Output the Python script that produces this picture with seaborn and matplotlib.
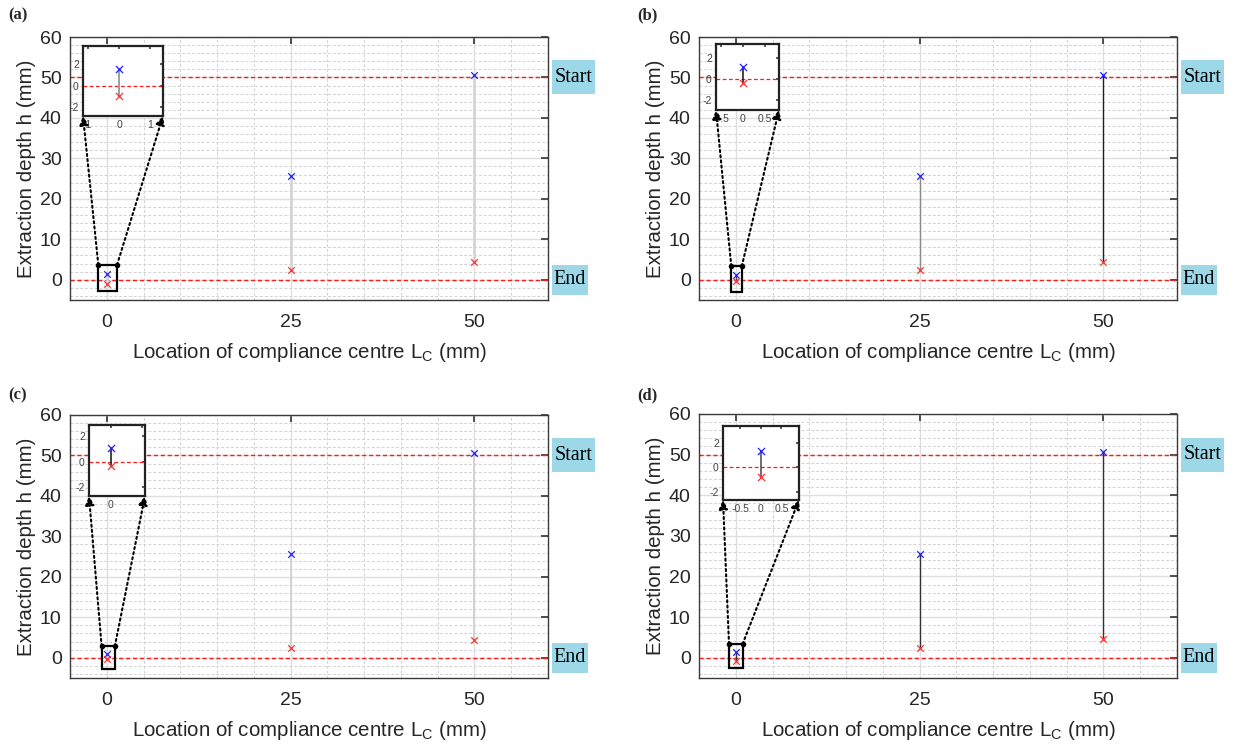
import matplotlib
matplotlib.use("Agg")
import matplotlib.pyplot as plt
import matplotlib.transforms as mtransforms
import seaborn as sns
import pandas as pd
from matplotlib.ticker import MultipleLocator, FixedLocator
from matplotlib.patches import Rectangle, ConnectionPatch

# ---- data -------------------------------------------------------------
lc = [0, 25, 50]                       # location of compliance centre (mm)

h_start_a = [1.52, 25.7, 50.6]
h_end_a = [-0.93, 2.4, 4.5]
h_start_b = [1.13, 25.6, 50.6]
h_end_b = [-0.41, 2.3, 4.5]
h_start_c = [1.05, 25.6, 50.6]
h_end_c = [-0.34, 2.3, 4.5]
h_start_d = [1.35, 25.6, 50.6]
h_end_d = [-0.76, 2.3, 4.5]

panel_tags = ["(a)", "(b)", "(c)", "(d)"]
marker_labels = ["Start", "End"]
marker_levels = [50, 0]

# zoom windows around L_C = 0
inset_xlim_a = [-1.15, 1.4]
inset_ylim_a = [-2.8, 3.7]
inset_xlim_b = [-0.61, 0.82]
inset_ylim_b = [-3.0, 3.37]
inset_xlim_c = [-0.7, 1.1]
inset_ylim_c = [-2.67, 2.88]
inset_xlim_d = [-0.92, 0.93]
inset_ylim_d = [-2.66, 3.38]

inset_xticks_a = [-1, 0, 1]
inset_xticks_b = [-0.5, 0, 0.5]
inset_xticks_c = [0, 1]
inset_xticks_d = [-0.5, 0, 0.5]
inset_yticks = [-2, 0, 2]

# ---- style ------------------------------------------------------------
sns.set_theme(style="white")
plt.rcParams["font.family"] = ["Liberation Sans", "DejaVu Sans"]
plt.rcParams["axes.unicode_minus"] = False

W, H = 1236, 753
fig = plt.figure(figsize=(W / 100, H / 100), dpi=100)


def fbox(l, t, r, b):
    return [l / W, 1 - b / H, (r - l) / W, (b - t) / H]


panels = [
    dict(start=h_start_a, end=h_end_a, xl=inset_xlim_a, yl=inset_ylim_a, xt=inset_xticks_a,
         main=fbox(70, 37, 548, 300), ins=fbox(83, 46, 163, 116),
         link_c="#d4d4d4", link_w=2.0, ins_c="#8c8c8c", tag=(8, 15)),
    dict(start=h_start_b, end=h_end_b, xl=inset_xlim_b, yl=inset_ylim_b, xt=inset_xticks_b,
         main=fbox(699, 37, 1177, 300), ins=fbox(716, 44, 779, 110),
         link_c=["#444444", "#8a8a8a", "#222222"], link_w=1.0, ins_c="#222222", tag=(637, 15)),
    dict(start=h_start_c, end=h_end_c, xl=inset_xlim_c, yl=inset_ylim_c, xt=inset_xticks_c,
         main=fbox(70, 415, 548, 678), ins=fbox(89, 425, 145, 496),
         link_c="#d0d0d0", link_w=1.3, ins_c="#222222", tag=(8, 395)),
    dict(start=h_start_d, end=h_end_d, xl=inset_xlim_d, yl=inset_ylim_d, xt=inset_xticks_d,
         main=fbox(699, 414, 1177, 678), ins=fbox(723, 426, 799, 500),
         link_c="#333333", link_w=1.0, ins_c="#555555", tag=(637, 395)),
]

# tag boxes: (width px, height px)
tag_box = {"Start": (43, 34), "End": (36, 30)}

dash = (0, (3, 2))
spine_c = "#3a3a3a"
YMIN, YMAX = -5, 60

for tag, p in zip(panel_tags, panels):
    ax = fig.add_axes(p["main"])
    df = pd.DataFrame({"lc": lc, "start": p["start"], "end": p["end"]})

    # grid
    ax.set_xlim(-5, 60)
    ax.set_ylim(YMIN, YMAX)
    ax.xaxis.set_major_locator(FixedLocator([0, 25, 50]))
    ax.yaxis.set_major_locator(MultipleLocator(10))
    ax.xaxis.set_minor_locator(MultipleLocator(5))
    ax.yaxis.set_minor_locator(MultipleLocator(2))
    ax.grid(which="major", color="#dedede", lw=1.0, ls="-")
    ax.grid(which="minor", color="#d2d2d2", lw=0.7, ls=dash)
    ax.set_axisbelow(True)

    # start / end reference levels
    for lvl in marker_levels:
        ax.axhline(lvl, color="#ff1a1a", lw=1.0, ls=dash, zorder=2)

    # vertical links between start and end depth
    cols = p["link_c"] if isinstance(p["link_c"], list) else [p["link_c"]] * len(lc)
    for x, y0, y1, c in zip(df["lc"], df["end"], df["start"], cols):
        ax.plot([x, x], [y0, y1], color=c, lw=p["link_w"], zorder=3)

    sns.scatterplot(data=df, x="lc", y="start", marker="x", color="#2020ff",
                    s=22, linewidth=0.9, ax=ax, zorder=4)
    sns.scatterplot(data=df, x="lc", y="end", marker="x", color="#ff3030",
                    s=22, linewidth=0.9, ax=ax, zorder=4)

    ax.tick_params(which="major", direction="in", length=5, top=True, right=True,
                   color=spine_c, labelsize=14, labelcolor="#262626")
    ax.tick_params(axis="x", which="major", pad=10)
    ax.tick_params(axis="y", which="major", pad=6)
    ax.tick_params(which="minor", length=0)
    for s in ax.spines.values():
        s.set_color(spine_c)
        s.set_linewidth(1.0)
    ax.set_xlabel("Location of compliance centre L$_\\mathregular{C}$ (mm)",
                  fontsize=14.8, color="#262626", labelpad=7)
    ax.set_ylabel("Extraction depth h (mm)", fontsize=14.8, color="#262626", labelpad=3)

    # Start / End tags: shaded boxes just outside the right spine
    axw = p["main"][2] * W
    axh = p["main"][3] * H
    units_per_px = (YMAX - YMIN) / axh
    trans = mtransforms.blended_transform_factory(ax.transAxes, ax.transData)
    for txt, lvl in zip(marker_labels, marker_levels):
        bw, bh = tag_box[txt]
        ax.add_patch(Rectangle((1 + 4 / axw, lvl - bh / 2 * units_per_px),
                               bw / axw, bh * units_per_px, transform=trans,
                               fc="#9dd8e8", ec="none", clip_on=False, zorder=6))
        ax.text(1 + (4 + bw / 2) / axw, lvl, txt, transform=trans, ha="center",
                va="center", fontsize=14.5, family="Liberation Serif", color="black",
                clip_on=False, zorder=7)

    # zoom window outline
    x0, x1 = p["xl"]
    y0, y1 = p["yl"]
    ax.add_patch(Rectangle((x0, y0), x1 - x0, y1 - y0, fill=False, ec="black",
                           lw=1.6, zorder=5))
    ax.plot([x0, x1], [y1, y1], ls="none", marker="o", ms=3, color="black", zorder=6)

    # inset
    ins = fig.add_axes(p["ins"])
    ins.set_xlim(x0, x1)
    ins.set_ylim(y0, y1)
    ins.axhline(0, color="#ff1a1a", lw=0.9, ls=dash, zorder=2)
    ins.plot([0, 0], [p["end"][0], p["start"][0]], color=p["ins_c"], lw=1.2, zorder=3)
    sns.scatterplot(x=[0], y=[p["start"][0]], marker="x", color="#2020ff", s=26,
                    linewidth=0.9, ax=ins, zorder=4)
    sns.scatterplot(x=[0], y=[p["end"][0]], marker="x", color="#ff3030", s=26,
                    linewidth=0.9, ax=ins, zorder=4)
    ins.set_xticks(p["xt"])
    ins.set_xticklabels([f"{v:g}" for v in p["xt"]])
    ins.set_yticks(inset_yticks)
    ins.set_yticklabels([f"{v:g}" for v in inset_yticks])
    ins.tick_params(direction="in", length=2.5, labelsize=7.5, labelcolor="#444444",
                    color="#444444", pad=3, top=True, right=True)
    for s in ins.spines.values():
        s.set_color("#222222")
        s.set_linewidth(1.6)
    ins.set_xlabel("")
    ins.set_ylabel("")

    # dotted leaders from the zoom window to the inset
    for xa, xb in [(x0, 0), (x1, 1)]:
        con = ConnectionPatch(xyA=(xa, y1), coordsA=ax.transData,
                              xyB=(xb, 0), coordsB=ins.transAxes,
                              arrowstyle="-|>", mutation_scale=13, lw=1.5,
                              linestyle=(0, (1, 1.5)), color="black", zorder=7)
        fig.add_artist(con)

    fig.text(p["tag"][0] / W, 1 - p["tag"][1] / H, tag, fontsize=12, weight="bold",
             family="Liberation Serif", ha="left", va="center")

fig.savefig("out.png", dpi=100)
